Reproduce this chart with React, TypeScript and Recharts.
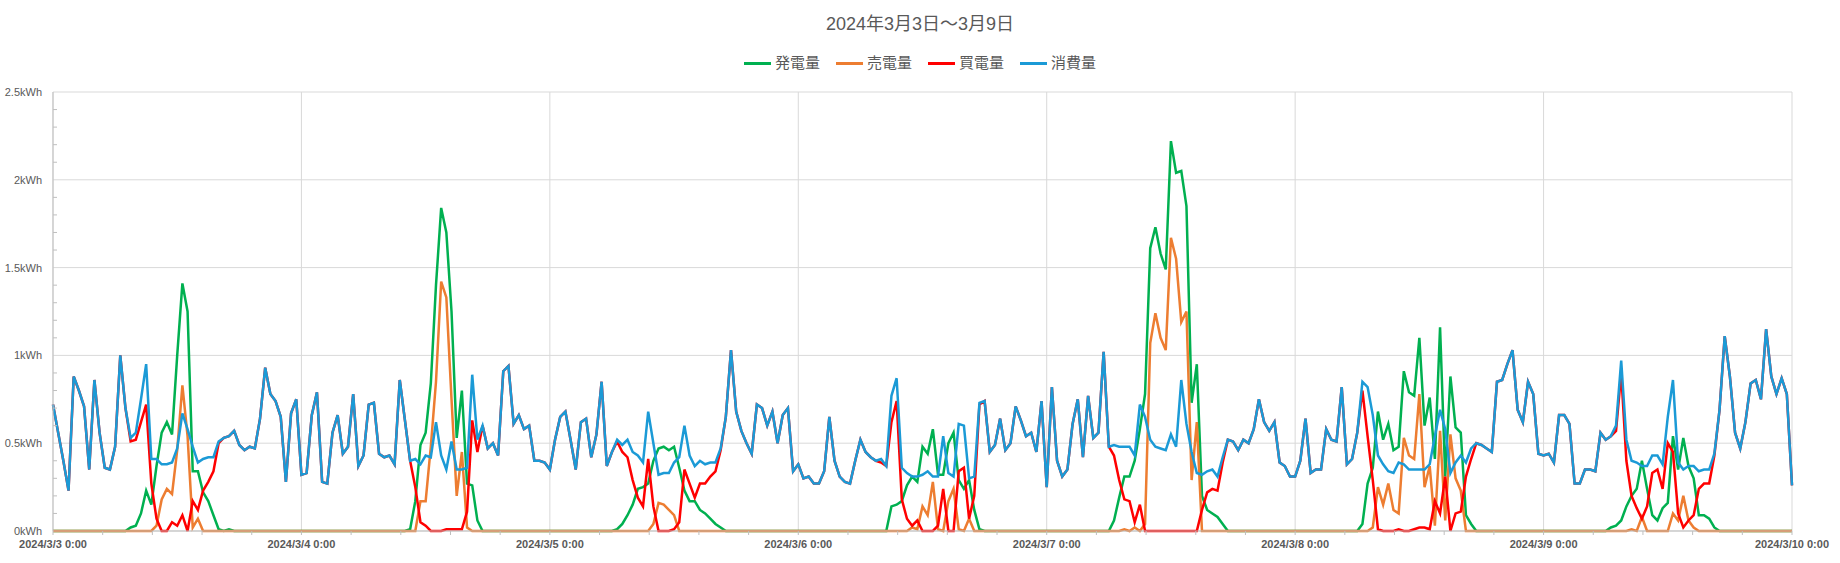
import { LineChart, Line, XAxis, YAxis, CartesianGrid } from 'recharts'

// 30分ごとの値 (kWh)、3/3 0:00 〜 3/10 0:00 の 337 点
const GEN = [
  0, 0, 0, 0, 0, 0, 0, 0, 0, 0, 0, 0, 0, 0, 0, 0.02, 0.03, 0.1, 0.23, 0.15, 0.37, 0.56, 0.62, 0.55,
  1.0, 1.41, 1.25, 0.34, 0.34, 0.22, 0.17, 0.09, 0.01, 0, 0.01, 0, 0, 0, 0, 0, 0, 0, 0, 0, 0, 0, 0, 0,
  0, 0, 0, 0, 0, 0, 0, 0, 0, 0, 0, 0, 0, 0, 0, 0, 0, 0, 0, 0, 0, 0.01, 0.17, 0.49,
  0.56, 0.84, 1.4, 1.84, 1.7, 1.25, 0.53, 0.8, 0.27, 0.26, 0.06, 0, 0, 0, 0, 0, 0, 0, 0, 0, 0, 0, 0, 0,
  0, 0, 0, 0, 0, 0, 0, 0, 0, 0, 0, 0, 0, 0.01, 0.04, 0.09, 0.15, 0.24, 0.25, 0.27, 0.4, 0.47, 0.48, 0.46,
  0.48, 0.36, 0.23, 0.17, 0.17, 0.12, 0.1, 0.07, 0.04, 0.02, 0, 0, 0, 0, 0, 0, 0, 0, 0, 0, 0, 0, 0, 0,
  0, 0, 0, 0, 0, 0, 0, 0, 0, 0, 0, 0, 0, 0, 0, 0, 0, 0, 0.14, 0.15, 0.17, 0.26, 0.31, 0.28,
  0.48, 0.44, 0.58, 0.32, 0.32, 0.5, 0.56, 0.29, 0.24, 0.29, 0.12, 0.01, 0, 0, 0, 0, 0, 0, 0, 0, 0, 0, 0, 0,
  0, 0, 0, 0, 0, 0, 0, 0, 0, 0, 0, 0, 0, 0.06, 0.19, 0.31, 0.31, 0.4, 0.58, 0.78, 1.61, 1.73, 1.58, 1.49,
  2.22, 2.04, 2.05, 1.85, 0.73, 0.95, 0.2, 0.12, 0.1, 0.08, 0.04, 0, 0, 0, 0, 0, 0, 0, 0, 0, 0, 0, 0, 0,
  0, 0, 0, 0, 0, 0, 0, 0, 0, 0, 0, 0, 0, 0.04, 0.27, 0.36, 0.68, 0.52, 0.61, 0.46, 0.48, 0.91, 0.79, 0.77,
  1.1, 0.6, 0.76, 0.41, 1.16, 0.31, 0.88, 0.59, 0.56, 0.09, 0.04, 0, 0, 0, 0, 0, 0, 0, 0, 0, 0, 0, 0, 0,
  0, 0, 0, 0, 0, 0, 0, 0, 0, 0, 0, 0, 0, 0.02, 0.03, 0.06, 0.14, 0.2, 0.24, 0.4, 0.24, 0.09, 0.06, 0.13,
  0.16, 0.54, 0.35, 0.53, 0.37, 0.3, 0.09, 0.09, 0.07, 0.02, 0, 0, 0, 0, 0, 0, 0, 0, 0, 0, 0, 0, 0, 0,
  0,
]

const SELL = [
  0, 0, 0, 0, 0, 0, 0, 0, 0, 0, 0, 0, 0, 0, 0, 0, 0, 0, 0, 0, 0.03, 0.18, 0.24, 0.21,
  0.46, 0.83, 0.54, 0.02, 0.07, 0, 0, 0, 0, 0, 0, 0, 0, 0, 0, 0, 0, 0, 0, 0, 0, 0, 0, 0,
  0, 0, 0, 0, 0, 0, 0, 0, 0, 0, 0, 0, 0, 0, 0, 0, 0, 0, 0, 0, 0, 0, 0, 0.17,
  0.17, 0.48, 0.85, 1.42, 1.33, 0.75, 0.2, 0.45, 0.02, 0, 0, 0, 0, 0, 0, 0, 0, 0, 0, 0, 0, 0, 0, 0,
  0, 0, 0, 0, 0, 0, 0, 0, 0, 0, 0, 0, 0, 0, 0, 0, 0, 0, 0, 0, 0.04, 0.16, 0.15, 0.12,
  0.09, 0, 0, 0, 0, 0, 0, 0, 0, 0, 0, 0, 0, 0, 0, 0, 0, 0, 0, 0, 0, 0, 0, 0,
  0, 0, 0, 0, 0, 0, 0, 0, 0, 0, 0, 0, 0, 0, 0, 0, 0, 0, 0, 0, 0, 0, 0.02, 0.01,
  0.14, 0.09, 0.28, 0.01, 0, 0.17, 0.24, 0.01, 0, 0.07, 0, 0, 0, 0, 0, 0, 0, 0, 0, 0, 0, 0, 0, 0,
  0, 0, 0, 0, 0, 0, 0, 0, 0, 0, 0, 0, 0, 0, 0, 0.01, 0, 0.02, 0, 0.04, 1.07, 1.24, 1.1, 1.03,
  1.67, 1.55, 1.19, 1.25, 0.29, 0.62, 0, 0, 0, 0, 0, 0, 0, 0, 0, 0, 0, 0, 0, 0, 0, 0, 0, 0,
  0, 0, 0, 0, 0, 0, 0, 0, 0, 0, 0, 0, 0, 0, 0, 0.02, 0.25, 0.15, 0.27, 0.12, 0.1, 0.53, 0.43, 0.41,
  0.78, 0.25, 0.37, 0.03, 0.57, 0.06, 0.55, 0.3, 0.23, 0, 0, 0, 0, 0, 0, 0, 0, 0, 0, 0, 0, 0, 0, 0,
  0, 0, 0, 0, 0, 0, 0, 0, 0, 0, 0, 0, 0, 0, 0, 0, 0, 0.01, 0, 0.08, 0, 0, 0, 0,
  0, 0.1, 0.06, 0.2, 0.06, 0.02, 0, 0, 0, 0, 0, 0, 0, 0, 0, 0, 0, 0, 0, 0, 0, 0, 0, 0,
  0,
]

const BUY = [
  0.72, 0.56, 0.4, 0.23, 0.88, 0.8, 0.71, 0.35, 0.86, 0.56, 0.36, 0.35, 0.48, 1.0, 0.7, 0.51, 0.52, 0.62, 0.72, 0.27, 0.07, 0, 0, 0.05,
  0.03, 0.09, 0, 0.17, 0.12, 0.23, 0.28, 0.34, 0.5, 0.53, 0.54, 0.57, 0.49, 0.46, 0.48, 0.47, 0.64, 0.93, 0.78, 0.74, 0.65, 0.28, 0.67, 0.75,
  0.32, 0.33, 0.66, 0.79, 0.28, 0.27, 0.56, 0.66, 0.44, 0.48, 0.78, 0.37, 0.43, 0.72, 0.73, 0.44, 0.42, 0.43, 0.38, 0.86, 0.63, 0.4, 0.25, 0.05,
  0.03, 0, 0, 0, 0.01, 0.01, 0.01, 0.01, 0.11, 0.63, 0.45, 0.6, 0.47, 0.5, 0.43, 0.91, 0.94, 0.61, 0.66, 0.58, 0.6, 0.4, 0.4, 0.39,
  0.35, 0.52, 0.65, 0.68, 0.52, 0.35, 0.62, 0.64, 0.42, 0.55, 0.85, 0.37, 0.45, 0.51, 0.45, 0.42, 0.29, 0.19, 0.14, 0.41, 0.14, 0, 0, 0,
  0.01, 0.05, 0.35, 0.27, 0.19, 0.27, 0.27, 0.31, 0.34, 0.46, 0.65, 1.03, 0.68, 0.57, 0.5, 0.44, 0.72, 0.7, 0.6, 0.68, 0.5, 0.66, 0.7, 0.34,
  0.38, 0.3, 0.31, 0.27, 0.27, 0.34, 0.65, 0.4, 0.31, 0.28, 0.27, 0.4, 0.52, 0.45, 0.42, 0.4, 0.39, 0.37, 0.62, 0.74, 0.18, 0.07, 0.03, 0.06,
  0, 0, 0, 0.03, 0.24, 0, 0, 0.34, 0.36, 0.07, 0.2, 0.72, 0.74, 0.45, 0.49, 0.64, 0.46, 0.5, 0.71, 0.63, 0.54, 0.56, 0.45, 0.74,
  0.25, 0.82, 0.4, 0.31, 0.35, 0.61, 0.75, 0.42, 0.77, 0.53, 0.56, 1.02, 0.48, 0.43, 0.29, 0.18, 0.17, 0.05, 0.15, 0, 0, 0, 0, 0,
  0, 0, 0, 0, 0, 0, 0.12, 0.22, 0.24, 0.23, 0.39, 0.52, 0.51, 0.46, 0.52, 0.5, 0.58, 0.75, 0.62, 0.57, 0.62, 0.39, 0.37, 0.31,
  0.31, 0.4, 0.64, 0.33, 0.35, 0.35, 0.58, 0.52, 0.51, 0.82, 0.38, 0.41, 0.56, 0.8, 0.54, 0.29, 0.01, 0, 0, 0, 0.01, 0, 0, 0.01,
  0.02, 0.02, 0.01, 0.17, 0.1, 0.31, 0, 0.1, 0.11, 0.31, 0.41, 0.5, 0.49, 0.47, 0.45, 0.85, 0.86, 0.95, 1.03, 0.69, 0.62, 0.85, 0.78, 0.44,
  0.43, 0.44, 0.39, 0.66, 0.66, 0.61, 0.27, 0.27, 0.35, 0.35, 0.34, 0.56, 0.52, 0.54, 0.57, 0.9, 0.4, 0.2, 0.13, 0.07, 0.14, 0.33, 0.35, 0.24,
  0.5, 0.45, 0.1, 0.02, 0.06, 0.09, 0.24, 0.27, 0.27, 0.43, 0.69, 1.11, 0.88, 0.56, 0.47, 0.62, 0.84, 0.86, 0.75, 1.15, 0.88, 0.78, 0.87, 0.78,
  0.26,
]

const USE = [
  0.72, 0.56, 0.4, 0.23, 0.88, 0.8, 0.71, 0.35, 0.86, 0.56, 0.36, 0.35, 0.48, 1.0, 0.7, 0.53, 0.56, 0.75, 0.95, 0.41, 0.41, 0.38, 0.38, 0.39,
  0.47, 0.67, 0.58, 0.48, 0.39, 0.41, 0.42, 0.42, 0.51, 0.53, 0.54, 0.57, 0.49, 0.46, 0.48, 0.47, 0.64, 0.93, 0.78, 0.74, 0.65, 0.28, 0.67, 0.75,
  0.32, 0.33, 0.66, 0.79, 0.28, 0.27, 0.56, 0.66, 0.44, 0.48, 0.78, 0.37, 0.43, 0.72, 0.73, 0.44, 0.42, 0.43, 0.38, 0.86, 0.63, 0.4, 0.41, 0.38,
  0.43, 0.42, 0.62, 0.43, 0.35, 0.51, 0.35, 0.35, 0.36, 0.89, 0.52, 0.6, 0.47, 0.5, 0.43, 0.91, 0.94, 0.61, 0.66, 0.58, 0.6, 0.4, 0.4, 0.39,
  0.35, 0.52, 0.65, 0.68, 0.52, 0.35, 0.62, 0.64, 0.42, 0.55, 0.85, 0.37, 0.45, 0.52, 0.49, 0.52, 0.45, 0.43, 0.39, 0.68, 0.5, 0.32, 0.33, 0.33,
  0.39, 0.42, 0.6, 0.43, 0.37, 0.4, 0.38, 0.39, 0.39, 0.47, 0.65, 1.03, 0.68, 0.57, 0.5, 0.44, 0.72, 0.7, 0.6, 0.68, 0.5, 0.66, 0.7, 0.34,
  0.38, 0.3, 0.31, 0.27, 0.27, 0.34, 0.65, 0.4, 0.31, 0.28, 0.27, 0.4, 0.52, 0.45, 0.42, 0.4, 0.41, 0.37, 0.77, 0.87, 0.36, 0.33, 0.31, 0.31,
  0.32, 0.34, 0.31, 0.31, 0.54, 0.33, 0.31, 0.61, 0.6, 0.3, 0.31, 0.73, 0.74, 0.45, 0.49, 0.64, 0.46, 0.5, 0.71, 0.63, 0.54, 0.56, 0.45, 0.74,
  0.25, 0.82, 0.4, 0.31, 0.35, 0.61, 0.75, 0.42, 0.77, 0.53, 0.56, 1.02, 0.48, 0.49, 0.48, 0.48, 0.48, 0.43, 0.72, 0.65, 0.52, 0.48, 0.47, 0.46,
  0.55, 0.48, 0.86, 0.61, 0.45, 0.33, 0.32, 0.34, 0.35, 0.31, 0.42, 0.52, 0.51, 0.46, 0.52, 0.5, 0.58, 0.75, 0.62, 0.57, 0.62, 0.39, 0.37, 0.31,
  0.31, 0.4, 0.64, 0.33, 0.35, 0.35, 0.58, 0.52, 0.51, 0.82, 0.38, 0.41, 0.56, 0.85, 0.82, 0.66, 0.43, 0.38, 0.34, 0.33, 0.39, 0.38, 0.35, 0.35,
  0.35, 0.35, 0.38, 0.54, 0.69, 0.58, 0.33, 0.39, 0.43, 0.39, 0.47, 0.5, 0.49, 0.47, 0.45, 0.85, 0.86, 0.95, 1.03, 0.69, 0.62, 0.85, 0.78, 0.44,
  0.43, 0.44, 0.39, 0.66, 0.66, 0.61, 0.27, 0.27, 0.35, 0.35, 0.34, 0.56, 0.52, 0.54, 0.6, 0.97, 0.52, 0.4, 0.39, 0.37, 0.37, 0.43, 0.43, 0.38,
  0.65, 0.86, 0.39, 0.35, 0.37, 0.37, 0.34, 0.35, 0.35, 0.44, 0.69, 1.11, 0.88, 0.56, 0.47, 0.62, 0.84, 0.86, 0.75, 1.15, 0.88, 0.78, 0.87, 0.78,
  0.26,
]

const DAY_LABELS = [
  '2024/3/3 0:00',
  '2024/3/4 0:00',
  '2024/3/5 0:00',
  '2024/3/6 0:00',
  '2024/3/7 0:00',
  '2024/3/8 0:00',
  '2024/3/9 0:00',
  '2024/3/10 0:00',
]

const Y_MAJOR = [0, 0.5, 1, 1.5, 2, 2.5]

const SERIES = [
  { key: 'gen', name: '発電量', color: '#00b050' },
  { key: 'sell', name: '売電量', color: '#ed7d31' },
  { key: 'buy', name: '買電量', color: '#ff0000' },
  { key: 'use', name: '消費量', color: '#1b9ad6' },
]

const SLOTS_PER_DAY = 48
const LAST = (DAY_LABELS.length - 1) * SLOTS_PER_DAY
const FONT = '"Liberation Sans", "Noto Sans CJK JP", sans-serif'
const TEXT = '#595959'
const LINE_GREY = '#bfbfbf'
const Y_TICK_MARGIN = 11

const rows = USE.map((u, i) => ({ t: i, gen: GEN[i], sell: SELL[i], buy: BUY[i], use: u }))

// 目盛り: x は 1日を5分割、y は 0.1kWh ごと
const xTicks = Array.from({ length: (DAY_LABELS.length - 1) * 5 + 1 }, (_, k) => (k * 96) / 10)
const yTicks = Array.from({ length: 26 }, (_, k) => k / 10)
const dayValues = DAY_LABELS.map((_, d) => d * SLOTS_PER_DAY)

function XTick({ x, y, payload }: any) {
  const k = Math.round(payload.value * 10)
  if (k % (SLOTS_PER_DAY * 10) !== 0) return <g />
  return (
    <text x={x} y={y} dy="0.71em" textAnchor="middle" fontSize={11} fontWeight="bold" fill={TEXT} fontFamily={FONT}>
      {DAY_LABELS[k / (SLOTS_PER_DAY * 10)]}
    </text>
  )
}

function YTick({ x, y, payload }: any) {
  const k = Math.round(payload.value * 10)
  if (k % 5 === 0) {
    return (
      <text x={x} y={y} dy="0.355em" textAnchor="end" fontSize={11} fill={TEXT} fontFamily={FONT}>
        {`${k / 10}kWh`}
      </text>
    )
  }
  const ax = x + Y_TICK_MARGIN
  return <line x1={ax} x2={ax + 4} y1={y} y2={y} stroke={LINE_GREY} />
}

function LegendRow() {
  return (
    <div
      style={{
        position: 'absolute',
        top: 53,
        left: 0,
        width: 1840,
        display: 'flex',
        justifyContent: 'center',
        gap: 16,
        fontFamily: FONT,
        fontSize: 15,
        lineHeight: '20px',
        color: TEXT,
      }}
    >
      {SERIES.map((s) => (
        <div key={s.key} style={{ display: 'flex', alignItems: 'center', gap: 4 }}>
          <span style={{ display: 'block', width: 27, height: 3, background: s.color }} />
          <span>{s.name}</span>
        </div>
      ))}
    </div>
  )
}

export default function App() {
  return (
    <div style={{ position: 'relative', width: 1840, height: 563, background: '#fff' }}>
      <style>{'body{margin:0}'}</style>
      <div
        style={{
          position: 'absolute',
          top: 13,
          left: 0,
          width: 1840,
          textAlign: 'center',
          fontFamily: FONT,
          fontSize: 18,
          lineHeight: '22px',
          color: TEXT,
        }}
      >
        2024年3月3日〜3月9日
      </div>
      <LegendRow />

      <LineChart width={1840} height={563} data={rows} margin={{ top: 92, right: 48, bottom: 2, left: 0 }}>
        <CartesianGrid stroke="#d9d9d9" horizontalValues={Y_MAJOR} verticalValues={dayValues} />
        <XAxis
          dataKey="t"
          type="number"
          domain={[0, LAST]}
          ticks={xTicks}
          interval={0}
          height={30}
          tickSize={4}
          tickMargin={5}
          tick={(p: any) => <XTick {...p} />}
          tickLine={{ stroke: LINE_GREY }}
          axisLine={{ stroke: LINE_GREY }}
        />
        <YAxis
          type="number"
          domain={[0, 2.5]}
          ticks={yTicks}
          interval={0}
          width={53}
          tickSize={0}
          tickMargin={Y_TICK_MARGIN}
          tickLine={false}
          tick={(p: any) => <YTick {...p} />}
          axisLine={{ stroke: LINE_GREY }}
        />
        {SERIES.map((s) => (
          <Line
            key={s.key}
            type="linear"
            dataKey={s.key}
            name={s.name}
            stroke={s.color}
            strokeWidth={2.5}
            dot={false}
            activeDot={false}
            isAnimationActive={false}
          />
        ))}
      </LineChart>
    </div>
  )
}
